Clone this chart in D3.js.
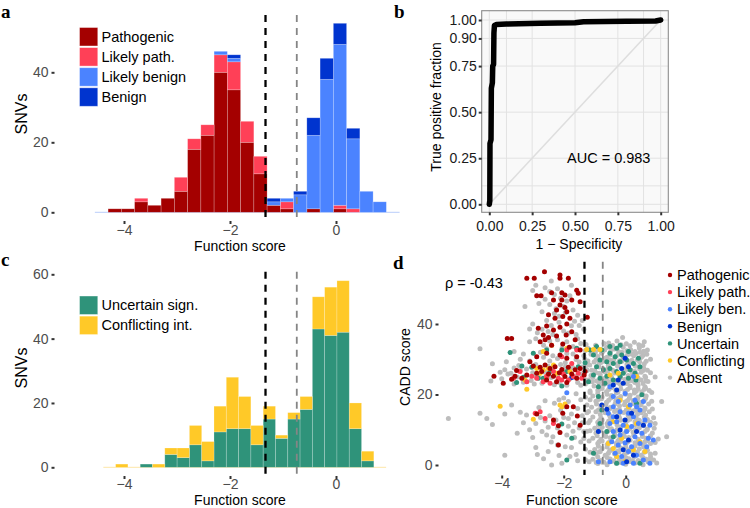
<!DOCTYPE html>
<html><head><meta charset="utf-8">
<script src="https://cdn.jsdelivr.net/npm/d3@7"></script>
<style>body{margin:0;background:#fff}svg{display:block}text{font-family:"Liberation Sans",Arial,Helvetica,sans-serif}</style>
</head><body><svg id="fig" width="750" height="508"></svg>
<script>
// ---------------- DATA ----------------
// Panel a: histogram of function scores (ClinVar classes), bins of 0.25 starting at -4.55
const binStartA = -4.55, binWidthA = 0.25;
const pathogenicA = [0,1,1,3,2,4,6,18,22,40,35,20,11,2,1,0,1,0,1,0,0,0,0];
const likelyPathA = [0,0,0,1,0,0,4,3,3,5,8,6,5,0,2,0,0,0,1,1,0,0,0];
const likelyBenA  = [0,0,0,0,0,0,0,0,0,1,1,0,0,1,1,5,21,38,46,20,6,3,0];
const benignA     = [0,0,0,0,0,0,0,0,0,0,1,0,0,1,0,1,5,6,6,3,0,0,0];
const ticksXHist = [-4,-2,0];
const ticksYA = [0,20,40];
const thresholds = [-1.33, -0.74];

// Panel b: ROC curve
const rocFPR = [0,0.003,0.004,0.010,0.012,0.018,0.020,0.025,0.027,0.030,0.040,0.100,0.300,0.500,0.550,0.800,0.970,1];
const rocTPR = [0,0.020,0.330,0.350,0.630,0.660,0.750,0.760,0.930,0.970,0.975,0.978,0.982,0.985,0.990,0.993,0.995,1];
const rocBreaks = [0,0.1,0.25,0.5,0.75,0.9,1];
const rocXLabels = [0,0.25,0.5,0.75,1];
const rocYLabels = [0,0.25,0.5,0.75,0.9,1];
const aucText = "AUC = 0.983";

// Panel c: histogram of VUS / conflicting, bins of 0.232 starting at -4.39
const binStartC = -4.39, binWidthC = 0.232;
const uncertainC   = [0,0,0,1,0,4,3,7,2,11,12,12,7,15,9,15,18,43,41,42,12,2,0];
const conflictingC = [0,1,0,0,1,2,3,6,6,8,16,10,6,4,1,2,4,10,15,16,8,3,0];
const ticksYC = [0,20,40,60];

// Panel d: function score vs CADD score
const ticksXD = [-4,-2,0];
const ticksYD = [0,20,40];
const rhoText = "ρ = -0.43";
const absentD = [
[-2.9,51],[-2.4,52.2],[-1.75,51],[-3.0,49.5],[-2.6,47],[-2.2,50],[-1.8,48],[-2.45,45.5],[-2.0,45],[-1.7,44],[-3.25,45],[-2.7,43.5],[-2.3,43],[-1.55,42.5],[-2.55,41],[-2.15,40.5],[-1.75,39.5],[-1.4,41],[-3.0,40],[-2.85,37.5],[-2.35,37],[-2.0,38],[-1.6,37],[-1.35,38.5],[-3.1,35],[-2.65,34],[-2.2,35.5],[-1.9,35],[-1.45,34.5],[-4.7,33],[-3.3,31.5],[-2.75,32],[-2.35,31],[-1.7,31.5],[-1.35,31],[-3.1,29.5],[-2.45,29.5],[-1.95,29],[-1.25,28.5],
[-2.45,49.2],[-2.1,47.3],[-1.95,43.2],[-2.4,39.6],[-2.7,38.5],[-1.85,37.4],[-2.55,33],[-2.05,33.2],[-1.55,35.8],[-2.25,44.3],
[-2.6,50.3],[-2.3,48.4],[-1.9,46.5],[-2.8,45.8],[-2.15,42.2],[-1.65,40.8],[-3.1,38.6],[-2.5,37.9],[-1.5,39.6],[-2.9,35.8],[-2.45,35.2],[-1.7,33.6],[-3.6,32.2],[-3.4,30],[-2.2,30.2],[-1.6,29.9],[-1.9,31.6],[-2.65,30.6],
[-3.9,27],[-3.6,27.5],[-3.4,26.8],[-3.2,27.2],[-3.0,26.2],[-2.8,25],[-2.6,26.3],[-2.4,24.8],[-2.2,25.5],[-2.0,26.4],[-1.8,24.5],[-1.6,25.2],[-1.4,27.8],[-3.7,26],[-3.5,25],[-3.3,23.5],[-3.05,24],[-2.9,28.5],[-2.5,28],[-2.1,28.5],[-1.5,29.2],[-3.6,23],[-2.7,23.2],[-2.3,22.8],[-1.9,22.6],[-1.55,23.4],[-4.0,24.5],[-3.8,25.8],[-3.45,28.2],[-2.95,23],[-1.7,27.6],[-1.3,24.2],[-2.15,23.4],
[-4.3,28.7],[-3.85,29.3],[-4.05,26.3],[-4.35,23.8],[-3.2,25.4],[-2.95,25.4],[-2.45,26.5],[-1.95,27.8],[-1.45,25.8],[-1.25,26.8],[-1.45,22.6],[-1.6,20.2],[-1.15,20.6],
[-5.72,13.2],[-4.7,14.7],[-4.48,13.2],[-3.68,17],[-3.3,12],[-3.1,10],[-2.9,11.8],[-2.6,12.5],[-2.7,9.5],[-2.45,14],[-2.3,17.5],[-2.15,18.5],[-2.0,19],[-1.85,18],[-1.75,14.5],[-1.65,12],[-1.55,16],[-1.45,18.5],[-1.4,14],[-1.35,9.5],[-1.45,6.5],[-1.6,3],[-2.0,13.5],[-2.2,10.5],[-1.9,8.5],[-2.4,6.5],[-2.06,0.5],[-2.39,0],[-1.25,17],[-1.2,12],[-1.3,4.5],[-3.5,9],[-2.9,5],[-2.55,8.5],[-1.75,5],[-1.95,16.5],[-2.1,15.5],[-1.5,10.5],[-1.3,1.5],[-1.65,7.8],[-2.25,12.8],[-1.85,11],
[-3.9,14.5],[-3.4,15],[-3.2,14.2],[-2.8,16.3],[-2.6,18.2],[-2.75,13.5],[-2.5,10.7],[-2.35,8],[-2.2,5.7],[-2.5,3.8],[-1.95,5.2],[-2.15,2.7],[-1.8,2.4],[-1.55,1.2],[-1.7,9.6],[-1.85,13.2],[-1.4,12],[-1.25,9.6],[-1.35,7.5],[-1.25,14.8],[-1.3,19.2],[-2.85,3],[-3.0,7.8],[-2.65,1.8],[-3.9,2.8],[-4.3,11.5],
[-0.55,34.6],[-0.28,35.2],[0.02,34.4],[0.28,34.8],[-0.1,36.2],[0.6,35],
[-1.22,33.1],[-0.88,32.8],[-0.62,33.3],[-0.36,32.9],[-0.08,33.4],[0.16,32.7],[0.44,33.2],[0.7,32.6],
[-1.12,31.4],[-0.78,31.7],[-0.5,31.2],[-0.22,31.8],[0.06,31.3],[0.33,31.6],[0.56,31.1],
[-1.32,30.1],[-0.96,29.8],[-0.66,30.3],[-0.38,29.9],[-0.08,30.2],[0.2,29.7],[0.48,30.4],[0.8,30],
[-1.16,28.4],[-0.86,28.7],[-0.56,28.3],[-0.26,28.8],[0.04,28.5],[0.3,28.2],[0.6,28.7],
[-1.26,27.1],[-1.0,26.8],[-0.72,27.3],[-0.42,26.9],[-0.12,27.2],[0.18,26.8],[0.45,27.3],[0.7,26.9],
[-1.12,25.4],[-0.82,25.7],[-0.52,25.3],[-0.22,25.8],[0.08,25.4],[0.36,25.6],[0.62,25.2],[0.95,25],
[-1.2,24.1],[-0.94,23.8],[-0.62,24.2],[-0.32,23.9],[-0.02,24.3],[0.24,23.8],[0.5,24.1],[0.72,23.7],
[-1.02,22.4],[-0.72,22.7],[-0.46,22.3],[-0.16,22.8],[0.14,22.4],[0.4,22.6],[0.62,22.2],
[-0.9,21.1],[-0.62,20.8],[-0.32,21.2],[-0.02,20.9],[0.28,21.3],[0.52,20.8],[0.76,21.1],
[-1.06,19.6],[-0.76,19.3],[-0.46,19.7],[-0.16,19.4],[0.14,19.8],[0.4,19.3],[0.66,19.6],
[-0.96,18.1],[-0.62,17.8],[-0.32,18.2],[-0.02,17.9],[0.24,18.3],[0.5,17.8],[0.84,18.1],[1.16,18],
[-1.1,16.4],[-0.8,16.7],[-0.5,16.3],[-0.2,16.8],[0.1,16.4],[0.38,16.6],[0.62,16.2],
[-0.96,15.1],[-0.66,14.8],[-0.36,15.2],[-0.06,14.9],[0.24,15.3],[0.5,14.8],[0.76,15.1],
[-1.06,13.6],[-0.8,13.3],[-0.5,13.7],[-0.2,13.4],[0.1,13.8],[0.34,13.3],[0.6,13.6],[0.9,13.4],
[-0.9,12.1],[-0.6,11.8],[-0.3,12.2],[0.0,11.9],[0.3,12.3],[0.56,11.8],[0.8,12.1],
[-1.0,10.4],[-0.76,10.7],[-0.46,10.3],[-0.16,10.8],[0.14,10.4],[0.44,10.6],[0.7,10.2],
[-0.96,9.1],[-0.66,8.8],[-0.36,9.2],[-0.06,8.9],[0.24,9.3],[0.54,8.8],[0.86,9.1],
[-1.06,7.6],[-0.8,7.3],[-0.5,7.7],[-0.2,7.4],[0.1,7.8],[0.4,7.3],[0.66,7.6],[1.05,7.4],[1.32,8],
[-0.9,6.1],[-0.6,5.8],[-0.3,6.2],[0.0,5.9],[0.3,6.3],[0.56,5.8],[0.8,6.1],
[-1.0,4.4],[-0.76,4.7],[-0.46,4.3],[-0.16,4.8],[0.14,4.4],[0.44,4.6],[0.7,4.2],
[-0.96,3.1],[-0.66,2.8],[-0.36,3.2],[-0.06,2.9],[0.24,3.3],[0.5,2.8],[0.8,3.1],
[-1.06,1.6],[-0.8,1.3],[-0.5,1.7],[-0.2,1.4],[0.1,1.8],[0.4,1.3],[0.66,1.6],[0.9,1.4],
[-0.9,0.4],[-0.6,0.1],[-0.3,0.5],[0.0,0.2],[0.3,0.6],[0.56,0.1],
[-0.42,33.9],[-0.15,34.1],[0.14,33.8],[0.42,34.1],
[-1.05,32.3],[-0.75,32.1],[-0.48,32.4],[-0.22,32.1],[0.04,32.4],[0.3,32.2],[0.58,32.3],
[-0.9,30.8],[-0.6,30.6],[-0.3,31],[0.0,30.7],[0.26,31],[0.52,30.7],
[-1.02,29.2],[-0.72,29.4],[-0.42,29.1],[-0.12,29.4],[0.18,29.1],[0.45,29.3],
[-0.86,27.8],[-0.56,27.6],[-0.26,28],[0.04,27.7],[0.32,28],[0.58,27.6],
[-0.96,26.2],[-0.66,26.4],[-0.36,26.1],[-0.06,26.4],[0.22,26.1],[0.5,26.3],
[-1.06,24.8],[-0.76,24.6],[-0.46,25],[-0.16,24.7],[0.12,25],[0.4,24.7],[0.64,24.9],
[-0.86,23.3],[-0.56,23.1],[-0.26,23.4],[0.04,23.1],[0.3,23.4],[0.56,23.1],
[-0.76,21.7],[-0.46,21.9],[-0.16,21.6],[0.14,21.9],[0.4,21.6],[0.64,21.8],
[-0.9,20.3],[-0.6,20.1],[-0.3,20.4],[0.0,20.1],[0.28,20.4],[0.54,20.1],
[-0.78,18.8],[-0.48,19],[-0.18,18.7],[0.12,19],[0.38,18.7],[0.64,18.9],
[-0.94,17.3],[-0.64,17.1],[-0.34,17.4],[-0.04,17.1],[0.24,17.4],[0.5,17.1],[0.74,17.3],
[-0.8,15.8],[-0.5,16],[-0.2,15.7],[0.1,16],[0.36,15.7],[0.62,15.9],
[-0.82,14.3],[-0.52,14.1],[-0.22,14.4],[0.08,14.1],[0.38,14.4],[0.64,14.1],
[-0.76,12.8],[-0.46,13],[-0.16,12.7],[0.14,13],[0.44,12.7],[0.7,12.9],
[-0.88,11.3],[-0.58,11.1],[-0.28,11.4],[0.02,11.1],[0.3,11.4],[0.58,11.1],
[-0.82,9.8],[-0.52,10],[-0.22,9.7],[0.08,10],[0.38,9.7],[0.68,9.9],
[-0.92,8.3],[-0.64,8.1],[-0.34,8.4],[-0.04,8.1],[0.26,8.4],[0.54,8.1],[0.8,8.3],
[-0.76,6.8],[-0.46,7],[-0.16,6.7],[0.14,7],[0.42,6.7],[0.7,6.9],
[-0.88,5.3],[-0.6,5.1],[-0.3,5.4],[0.0,5.1],[0.3,5.4],[0.58,5.1],
[-0.82,3.8],[-0.52,4],[-0.22,3.7],[0.08,4],[0.38,3.7],[0.66,3.9],
[-0.9,2.3],[-0.6,2.1],[-0.3,2.4],[0.0,2.1],[0.28,2.4],[0.56,2.1],[0.8,2.3],
[-0.76,0.8],[-0.46,1],[-0.16,0.7],[0.14,1],[0.42,0.7],[0.72,0.9],
[-1.28,34.2],[-0.97,34.0],[-0.7,34.5],[0.55,33.9],
[-1.3,32.5],[-0.98,31.9],[-0.68,32.6],[-0.12,32],[0.18,31.5],[0.46,32],[0.68,31.4],
[-1.22,29.5],[-0.8,29.1],[-0.5,29.7],[-0.2,29.6],[0.1,29.4],[0.38,29.8],[0.66,29.4],
[-1.35,26.2],[-1.1,26.9],[-0.85,26],[-0.58,26.7],[-0.28,26.2],[0.0,26.9],[0.3,26.5],[0.56,26.8],[0.8,26.2],
[-1.3,23],[-1.08,23.6],[-0.8,23.9],[-0.5,23.6],[-0.2,23.1],[0.1,23.8],[0.38,23.4],[0.66,23.9],
[-1.15,21],[-0.85,21.5],[-0.55,21.4],[-0.25,20.7],[0.06,21.4],[0.34,20.9],[0.6,21.5],[0.84,20.6],
[-1.15,18.5],[-0.88,18.6],[-0.55,18.4],[-0.25,18.9],[0.06,18.3],[0.32,18.6],[0.6,18.4],
[-1.2,15.2],[-0.88,15.6],[-0.58,15.4],[-0.28,15.5],[0.02,15.6],[0.3,15.5],[0.58,15.3],[0.86,15.9],
[-1.15,12.6],[-0.85,12.6],[-0.55,12.5],[-0.25,13.1],[0.06,12.6],[0.36,12.2],[0.64,12.4],[0.95,11.8],
[-1.15,9.7],[-0.88,9.9],[-0.58,9.6],[-0.28,10.1],[0.02,9.7],[0.32,10.1],[0.62,9.5],[0.92,10.4],
[-1.18,6.8],[-0.86,6.6],[-0.55,6.4],[-0.25,6.9],[0.06,6.5],[0.36,6.2],[0.62,6.6],[0.95,6.4],
[-1.15,3.6],[-0.86,3.7],[-0.56,3.3],[-0.26,3.9],[0.04,3.5],[0.34,3.2],[0.6,3.6],[0.95,3.3],
[-1.18,0.9],[-0.95,0.7],[-0.7,0.8],[-0.38,1.2],[-0.06,1.1],[0.22,1.3],[0.5,1.1],[0.78,1.5],[1.0,0.6]
];
const uncertainD = [
[-0.94,33.6],[-0.77,32.6],[-0.51,33.6],[-0.29,33.1],[-0.18,34],[-0.51,31.7],[-0.34,30.7],[-0.13,31.2],[0.09,32.2],[-1.04,31.2],[-0.83,29.8],[-0.61,29.3],[-0.40,28.8],[-0.18,29.3],[0.03,29.8],[0.25,28.8],[0.41,30.3],[-0.94,27.9],[-0.72,27],[-0.51,27.4],[-0.29,26.5],[-0.08,26],[0.14,27],[0.30,26],[-1.04,25.5],[-0.83,24.6],[-0.61,25.2],[-0.40,24.1],[-0.18,25.1],[0.09,24.6],[0.33,24.1],[-0.88,22.2],[-0.67,23.2],[-1.20,23.6],[-1.31,29],[-1.15,32.6],[0.46,27.9],
[-3.73,31.9],[-3.03,27.7],[-2.98,31.7],[-2.55,32.6],[-2.06,32.6],[-1.58,33.1],[-2.82,24.6],[-2.44,26.5],[-1.90,26.5],[-1.53,27.9],[-3.52,23.4],[-3.30,24.9],[-3.35,28.1],[-2.06,22.4],[-2.66,24.6],
[-2.06,11.6],[-1.90,1.4],[-1.74,7.6],[-0.88,19.4],[-0.77,15.6],[-0.83,11.8],[-0.61,9.5],[0.35,17.5],[0.52,19.9],[-0.40,8],[-0.29,0.5],[0.46,0.5],[-1.04,3.3]
];
const conflictingD = [
[-2.39,34],[-1.90,33.1],[-1.26,32.8],[-1.04,32.8],[-0.83,32.8],[-2.66,32.2],[-2.87,27.4],[-2.66,27],[-2.49,27.4],[-2.33,28.4],[-2.76,26],[-2.55,25.1],[-2.23,26],[-1.80,26.5],[-3.25,24.1],[-3.19,21.5],[-4.05,16.7],[-2.98,13],[-2.12,17],[-1.96,17.3],[-2.06,16.5],[-0.51,25.5],[-0.24,26],[0.35,25.1],[-0.56,6.1],[-0.40,4.7],[-0.13,7.6],[0.03,10.9],[0.25,4.3],[0.46,6.6],[0.62,3.8],[-0.29,2.4],[-0.02,0.9],[0.35,11.8],[0.09,16.5],[-0.40,12.3],[-0.18,18.4]
];
const likelyBenD = [
[-0.40,19.4],[-0.24,18],[-0.02,20.3],[0.14,17],[0.30,18.4],[-0.18,15.1],[0.09,14.7],[0.25,13.7],[0.46,15.6],[-0.40,13.7],[-0.51,11.8],[-0.29,12.3],[-0.08,11.3],[0.19,10.9],[0.41,11.8],[0.62,12.8],[0.78,11.3],[-0.40,9.5],[-0.18,8.5],[0.03,9.5],[0.30,8],[0.52,9],[0.73,7.6],[-0.45,6.6],[-0.24,5.7],[-0.02,6.3],[0.19,5.2],[0.46,6.1],[0.68,5.2],[0.89,7.1],[-0.34,3.3],[-0.13,2.4],[0.09,3.8],[0.35,2.8],[0.57,1.4],[0.78,0.5],[-0.51,0.9],[-0.88,0.9],[0.25,0.5],[-0.08,0.5],[-0.40,16.5],[-0.56,14.7],[0.35,16.5],[0.57,18],[-1.90,20.5],[0.25,25.1],[-0.51,22.2]
];
const benignD = [
[-0.02,30.3],[-0.13,27.4],[0.09,27.9],[-0.24,24.1],[-0.08,23.2],[-0.40,22.7],[-1.74,24.8],[-0.77,17],[-0.61,15.8],[-0.29,13.7],[-0.02,12.8],[0.19,14.7],[-0.18,9.9],[0.09,7.1],[0.35,9.5],[-0.08,4.3],[0.25,2.8],[0.03,0.9],[-0.88,9.5],[0.57,11.3],[-0.29,21.3]
];
const likelyPathD = [
[-3.19,23.6],[-3.03,25.2],[-2.87,24.6],[-2.55,25.2],[-2.33,26.5],[-2.17,24.6],[-2.01,25.8],[-1.85,24.1],[-1.69,25.1],[-1.53,26],[-1.42,24.6],[-2.66,23.6],[-1.90,32.6],[-2.06,30.7],[-1.58,32.6],[-1.74,28.8],[-3.62,24.6],[-3.41,26.5],[-2.92,14.7],[-2.76,15.1],[-2.60,13.2],[-2.33,11.8],[-2.06,24.1],[-2.44,23.2]
];
const pathogenicD = [
[-2.62,54.8],[-3.19,53],[-2.95,53],[-2.12,53.9],[-2.12,53],[-1.85,53],[-2.87,48],[-2.73,48],[-2.39,48.9],[-2.06,48.9],[-1.96,48.2],[-1.58,49.6],[-1.53,48.7],[-2.33,46.8],[-2.06,46.8],[-1.74,46.8],[-1.47,46.3],[-2.12,45.4],[-1.96,44.7],[-2.23,44],[-1.90,43.5],[-2.49,42.6],[-2.28,41.6],[-2.03,42.1],[-1.80,41.6],[-1.24,41.9],[-2.82,38.8],[-2.55,39.4],[-2.33,38.3],[-2.12,39.1],[-1.90,40],[-2.66,36.9],[-2.49,36.2],[-2.23,36.6],[-1.92,36.9],[-1.74,37.8],[-3.82,35.9],[-3.68,35.9],[-2.76,35],[-2.60,35.5],[-2.39,34],[-2.03,34.3],[-1.82,33.4],[-1.63,35.5],[-1.47,32.6],
[-2.87,30.7],[-2.55,31.7],[-2.12,31.2],[-1.90,30.3],[-1.58,30.7],
[-3.09,29.3],[-2.98,28.1],[-2.76,27.7],[-2.60,28.4],[-2.44,27.4],[-2.28,27.9],[-2.06,27.1],[-1.85,27.7],[-1.63,27],[-1.47,27.4],[-1.31,26.5],[-2.87,26],[-2.71,26.5],[-2.49,25.8],[-2.33,25.2],[-2.14,26.2],[-1.96,25.1],[-1.74,25.8],[-1.58,24.6],[-3.19,25.5],[-3.35,24.6],[-3.57,25.2],[-3.68,24.3],[-3.52,26.8],[-4.25,25.2],[-3.95,23.2],[-2.55,24.1],[-2.23,23.6],[-1.90,23.4],[-1.34,25.5],
[-2.87,14.5],[-2.33,12.8],[-2.17,11.1],[-2.03,14.7],[-1.90,16.5],[-1.69,16.5],[-1.56,13.9],[-1.47,11.3],[-2.12,9.2],[-2.17,5.7]
];

// ---------------- STYLE ----------------
const COL = {
  "Pathogenic":"#A40000", "Likely path.":"#FF4057", "Likely benign":"#4B83FF", "Benign":"#0034CF",
  "Uncertain sign.":"#2F937A", "Conflicting int.":"#FFC928", "Absent":"#BDBDBD"
};
const FS = 14, TFS = 14, TICKCOL = "#4d4d4d";
const svg = d3.select("#fig");

function styleAxis(g, color){
  g.attr("font-family",null).attr("font-size",null);
  g.select(".domain").remove();
  g.selectAll(".tick line").attr("stroke","#333").attr("stroke-width",2);
  g.selectAll(".tick text").attr("fill",color).style("font-size",TFS+"px");
}
function panelLabel(txt,x,y){
  svg.append("text").attr("x",x).attr("y",y).text(txt)
    .style("font-family","'Liberation Serif','Times New Roman',serif").style("font-weight","bold").style("font-size","19px");
}
function dashed(x, y0, y1, color, w){
  svg.append("line").attr("x1",x).attr("x2",x).attr("y1",y0).attr("y2",y1)
    .attr("stroke",color).attr("stroke-width",w).attr("stroke-dasharray","7,6");
}
const intFmt = d3.format("d");

// ---------------- PANEL A ----------------
const xH = d3.scaleLinear().domain([-4,0]).range([124,336]);
const yA = d3.scaleLinear().domain([0,40]).range([212.3,72.3]);
const keysA = ["Pathogenic","Likely path.","Likely benign","Benign"];
const rowsA = pathogenicA.map((v,i)=>({x0:binStartA+i*binWidthA, x1:binStartA+(i+1)*binWidthA,
  "Pathogenic":v, "Likely path.":likelyPathA[i], "Likely benign":likelyBenA[i], "Benign":benignA[i]}));
const stackA = d3.stack().keys(keysA)(rowsA);
svg.append("line").attr("x1",xH(binStartA)).attr("x2",xH(binStartA+rowsA.length*binWidthA))
  .attr("y1",yA(0)).attr("y2",yA(0)).attr("stroke","#b9cdfb").attr("stroke-width",1);
stackA.forEach(layer=>{
  svg.append("g").selectAll("rect").data(layer.filter(d=>d[1]>d[0])).join("rect")
    .attr("x",d=>xH(d.data.x0)).attr("width",d=>xH(d.data.x1)-xH(d.data.x0))
    .attr("y",d=>yA(d[1])).attr("height",d=>yA(d[0])-yA(d[1]))
    .attr("fill",COL[layer.key]).attr("stroke","rgba(255,255,255,0.3)").attr("stroke-width",0.7);
});
dashed(xH(thresholds[0]),15,221.7,"#000",2.3);
dashed(xH(thresholds[1]),15,221.7,"#858585",1.8);
styleAxis(svg.append("g").attr("transform","translate(54.5,0)")
  .call(d3.axisLeft(yA).tickValues(ticksYA).tickFormat(intFmt).tickSize(3).tickPadding(3)), TICKCOL);
styleAxis(svg.append("g").attr("transform","translate(0,221)")
  .call(d3.axisBottom(xH).tickValues(ticksXHist).tickFormat(intFmt).tickSize(3).tickPadding(1)), TICKCOL);
svg.append("text").attr("x",240).attr("y",251).attr("text-anchor","middle").style("font-size",FS+"px").text("Function score");
svg.append("text").attr("transform","translate(27,114) rotate(-90)").attr("text-anchor","middle").style("font-size","16px").text("SNVs");
keysA.forEach((k,i)=>{
  const y0 = 27.5 + i*20.1;
  svg.append("rect").attr("x",79.5).attr("y",y0).attr("width",18.3).attr("height",18.5)
    .attr("fill",COL[k]).attr("stroke","rgba(255,255,255,0.5)").attr("stroke-width",0.8);
  svg.append("text").attr("x",101.5).attr("y",y0+14).style("font-size","14.5px").text(k);
});
panelLabel("a",1,17.5);

// ---------------- PANEL B ----------------
const xB = d3.scaleLinear().domain([0,1]).range([489.3,660.7]);
const yB = d3.scaleLinear().domain([0,1]).range([204.3,20]);
svg.append("rect").attr("x",481.7).attr("y",10.7).attr("width",186.6).attr("height",201.6).attr("fill","#f9f9f9");
const gridB = svg.append("g").attr("stroke","#e2e2e2").attr("stroke-width",1);
rocBreaks.forEach(b=>{
  gridB.append("line").attr("x1",xB(b)).attr("x2",xB(b)).attr("y1",10.7).attr("y2",212.3);
  gridB.append("line").attr("y1",yB(b)).attr("y2",yB(b)).attr("x1",481.7).attr("x2",668.3);
});
svg.append("line").attr("x1",xB(0)).attr("y1",yB(0)).attr("x2",xB(1)).attr("y2",yB(1))
  .attr("stroke","#dedede").attr("stroke-width",1.6);
svg.append("path").datum(rocFPR.map((f,i)=>[f,rocTPR[i]]))
  .attr("d",d3.line().x(d=>xB(d[0])).y(d=>yB(d[1])))
  .attr("fill","none").attr("stroke","#000").attr("stroke-width",5.5).attr("stroke-linejoin","round").attr("stroke-linecap","round");
svg.append("rect").attr("x",481.7).attr("y",10.7).attr("width",186.6).attr("height",201.6)
  .attr("fill","none").attr("stroke","#8c8c8c").attr("stroke-width",1.1);
styleAxis(svg.append("g").attr("transform","translate(481.7,0)")
  .call(d3.axisLeft(yB).tickValues(rocYLabels).tickFormat(d3.format(".2f")).tickSize(3).tickPadding(2)), "#1a1a1a");
styleAxis(svg.append("g").attr("transform","translate(0,212.3)")
  .call(d3.axisBottom(xB).tickValues(rocXLabels).tickFormat(d3.format(".2f")).tickSize(3).tickPadding(6)), "#1a1a1a");
svg.append("text").attr("x",567).attr("y",163).style("font-size","14.5px").text(aucText);
svg.append("text").attr("x",579).attr("y",249).attr("text-anchor","middle").style("font-size",FS+"px").text("1 − Specificity");
svg.append("text").attr("transform","translate(441,107) rotate(-90)").attr("text-anchor","middle").style("font-size",FS+"px").text("True positive fraction");
panelLabel("b",394,17.5);

// ---------------- PANEL C ----------------
const yC = d3.scaleLinear().domain([0,60]).range([467.3,274.3]);
const keysC = ["Uncertain sign.","Conflicting int."];
const rowsC = uncertainC.map((v,i)=>({x0:binStartC+i*binWidthC, x1:binStartC+(i+1)*binWidthC,
  "Uncertain sign.":v, "Conflicting int.":conflictingC[i]}));
const stackC = d3.stack().keys(keysC)(rowsC);
svg.append("line").attr("x1",xH(binStartC)).attr("x2",xH(binStartC+rowsC.length*binWidthC))
  .attr("y1",yC(0)).attr("y2",yC(0)).attr("stroke","#fde7a8").attr("stroke-width",1);
stackC.forEach(layer=>{
  svg.append("g").selectAll("rect").data(layer.filter(d=>d[1]>d[0])).join("rect")
    .attr("x",d=>xH(d.data.x0)).attr("width",d=>xH(d.data.x1)-xH(d.data.x0))
    .attr("y",d=>yC(d[1])).attr("height",d=>yC(d[0])-yC(d[1]))
    .attr("fill",COL[layer.key]).attr("stroke","rgba(255,255,255,0.3)").attr("stroke-width",0.7);
});
dashed(xH(thresholds[0]),271.7,477,"#000",2.3);
dashed(xH(thresholds[1]),271.7,477,"#858585",1.8);
styleAxis(svg.append("g").attr("transform","translate(54.5,0)")
  .call(d3.axisLeft(yC).tickValues(ticksYC).tickFormat(intFmt).tickSize(3).tickPadding(3)), TICKCOL);
styleAxis(svg.append("g").attr("transform","translate(0,476)")
  .call(d3.axisBottom(xH).tickValues(ticksXHist).tickFormat(intFmt).tickSize(3).tickPadding(0)), TICKCOL);
svg.append("text").attr("x",240).attr("y",505).attr("text-anchor","middle").style("font-size",FS+"px").text("Function score");
svg.append("text").attr("transform","translate(27,368) rotate(-90)").attr("text-anchor","middle").style("font-size","16px").text("SNVs");
keysC.forEach((k,i)=>{
  const y0 = 296 + i*20.1;
  svg.append("rect").attr("x",79.5).attr("y",y0).attr("width",18.3).attr("height",18.5)
    .attr("fill",COL[k]).attr("stroke","rgba(255,255,255,0.5)").attr("stroke-width",0.8);
  svg.append("text").attr("x",101.5).attr("y",y0+14).style("font-size","14.5px").text(k);
});
panelLabel("c",1,266);

// ---------------- PANEL D ----------------
const xD = d3.scaleLinear().domain([-4,0]).range([501.7,625.7]);
const yD = d3.scaleLinear().domain([0,40]).range([465,324]);
const scatterSets = [
  ["Absent",absentD],["Uncertain sign.",uncertainD],["Conflicting int.",conflictingD],
  ["Likely benign",likelyBenD],["Benign",benignD],["Likely path.",likelyPathD],["Pathogenic",pathogenicD]
];
scatterSets.forEach(([k,pts])=>{
  svg.append("g").selectAll("circle").data(pts).join("circle")
    .attr("cx",d=>xD(d[0])).attr("cy",d=>yD(d[1])).attr("r",2.5).attr("fill",COL[k]);
});
dashed(xD(thresholds[0]),261.7,475,"#000",2.3);
dashed(xD(thresholds[1]),261.7,475,"#858585",1.8);
styleAxis(svg.append("g").attr("transform","translate(438.5,0)")
  .call(d3.axisLeft(yD).tickValues(ticksYD).tickFormat(intFmt).tickSize(3).tickPadding(3)), TICKCOL);
styleAxis(svg.append("g").attr("transform","translate(0,475.5)")
  .call(d3.axisBottom(xD).tickValues(ticksXD).tickFormat(intFmt).tickSize(3).tickPadding(0)), TICKCOL);
svg.append("text").attr("x",572).attr("y",505).attr("text-anchor","middle").style("font-size",FS+"px").text("Function score");
svg.append("text").attr("transform","translate(410,367) rotate(-90)").attr("text-anchor","middle").style("font-size",FS+"px").text("CADD score");
svg.append("text").attr("x",445).attr("y",288).style("font-size","14.5px").text(rhoText);
const legD = [["Pathogenic","Pathogenic"],["Likely path.","Likely path."],["Likely benign","Likely ben."],["Benign","Benign"],["Uncertain sign.","Uncertain"],["Conflicting int.","Conflicting"],["Absent","Absent"]];
legD.forEach(([k,lab],i)=>{
  const cy = 275 + i*17.1;
  svg.append("circle").attr("cx",670).attr("cy",cy).attr("r",2.2).attr("fill",COL[k]);
  svg.append("text").attr("x",677).attr("y",cy+5.2).style("font-size","14.5px").text(lab);
});
panelLabel("d",393,269);
</script></body></html>
